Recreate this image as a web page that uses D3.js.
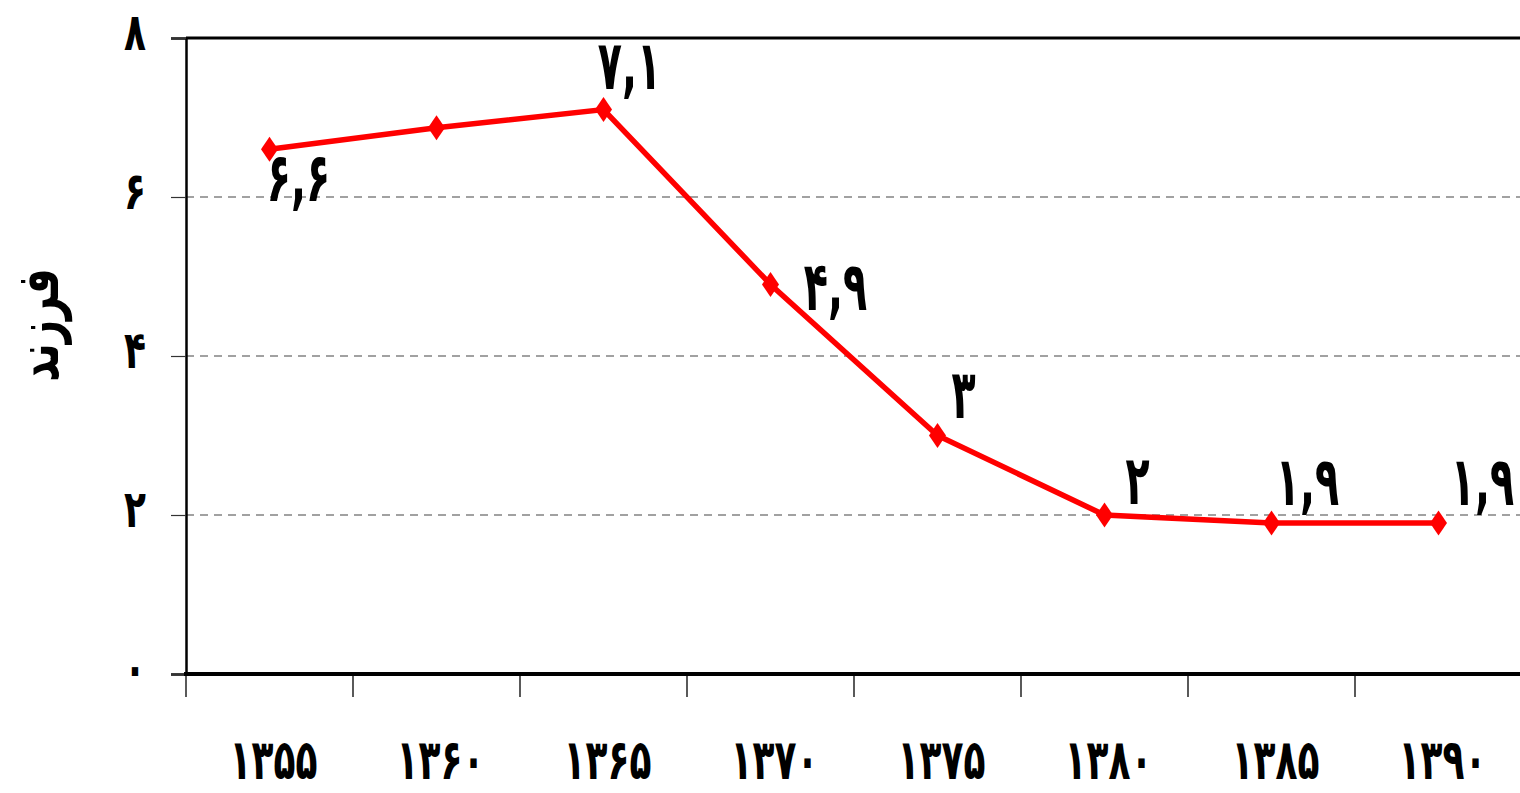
<!DOCTYPE html>
<html><head><meta charset="utf-8">
<script src="https://cdn.jsdelivr.net/npm/d3@7"></script>
<style>
html,body{margin:0;padding:0;background:#fff;overflow:hidden}
text{font-family:"DejaVu Sans Condensed","DejaVu Sans",sans-serif;font-weight:bold;fill:#000}
</style></head>
<body>
<svg id="c" width="1520" height="793"></svg>
<script>
const years = ["۱۳۵۵","۱۳۶۰","۱۳۶۵","۱۳۷۰","۱۳۷۵","۱۳۸۰","۱۳۸۵","۱۳۹۰"];
const values = [6.6, 6.87, 7.1, 4.9, 3.0, 2.0, 1.9, 1.9];
const valueLabels = ["۶,۶", "", "۷,۱", "۴,۹", "۳", "۲", "۱,۹", "۱,۹"];
const yTicks = [0, 2, 4, 6, 8];
const yTickLabels = ["۰","۲","۴","۶","۸"];
const yTitle = "فرزند";
// manual label nudges (dx, dy) like in the original
const labelNudges = [[29,31],[0,0],[26,-41],[65,5],[26,-38],[33,-31],[36,-38],[44,-38]];

const svg = d3.select("#c");
const L = 186, R = 1522, T = 38, B = 674;
const x = d3.scaleBand().domain(years).range([L, R]).paddingInner(0).paddingOuter(0);
const y = d3.scaleLinear().domain([0, 8]).range([B, T]);
const cx = (i) => x(years[i]) + x.bandwidth() / 2;

// gridlines
svg.append("g").selectAll("line").data(yTicks.filter(t => t > 0 && t < 8)).join("line")
  .attr("x1", L).attr("x2", 1520).attr("y1", d => y(d)).attr("y2", d => y(d))
  .attr("stroke", "#444").attr("stroke-width", 1.1).attr("stroke-dasharray", "8,6");

// top border
svg.append("line").attr("x1", L).attr("x2", 1520).attr("y1", y(8)).attr("y2", y(8))
  .attr("stroke", "#000").attr("stroke-width", 3);

// y axis
const yAxis = d3.axisLeft(y).tickValues(yTicks).tickSize(15).tickFormat((d, i) => yTickLabels[i]).tickPadding(25);
const gy = svg.append("g").attr("transform", `translate(${L},0)`).call(yAxis);
gy.select(".domain").attr("stroke", "#000").attr("stroke-width", 2.5);
gy.selectAll(".tick line").attr("stroke", "#333").attr("stroke-width", 1.2);
gy.selectAll(".tick text").attr("font-size", 40).attr("dy", "0.22em").attr("transform", "scale(1,1.3)")
  .style("font-family", '"DejaVu Sans Condensed","DejaVu Sans",sans-serif').style("font-weight", "bold");

// x axis
const gx = svg.append("g");
gx.selectAll("line.t").data(years.concat(["end"])).join("line").attr("class", "t")
  .attr("x1", (d, i) => i < years.length ? x(d) : R).attr("x2", (d, i) => i < years.length ? x(d) : R)
  .attr("y1", B).attr("y2", B + 23).attr("stroke", "#000").attr("stroke-width", 1.3);
gx.append("line").attr("x1", L - 2).attr("x2", 1520).attr("y1", B).attr("y2", B)
  .attr("stroke", "#000").attr("stroke-width", 4);
gx.selectAll("text").data(years).join("text")
  .attr("transform", d => `translate(${x(d) + x.bandwidth() / 2 + 4},779) scale(1,1.4)`)
  .attr("text-anchor", "middle").attr("font-size", 40).attr("letter-spacing", 8)
  .text(d => d);

// y title
svg.append("text").attr("transform", "translate(58,325) rotate(-90) scale(1,1.3)")
  .attr("text-anchor", "middle").attr("font-size", 45).attr("direction", "rtl")
  .text(yTitle);

// line
const line = d3.line().x((d, i) => cx(i)).y(d => y(d));
svg.append("path").datum(values).attr("d", line).attr("fill", "none")
  .attr("stroke", "#ff0000").attr("stroke-width", 5.5).attr("stroke-linejoin", "miter");

// diamond markers
svg.append("g").selectAll("path").data(values).join("path")
  .attr("transform", (d, i) => `translate(${cx(i)},${y(d)})`)
  .attr("d", "M0,-12.5L8.5,0L0,12.5L-8.5,0Z").attr("fill", "#ff0000");

// value labels
svg.append("g").selectAll("text").data(values).join("text")
  .attr("transform", (d, i) => `translate(${cx(i) + labelNudges[i][0]},${y(d) + labelNudges[i][1]}) scale(1,1.55)`)
  .attr("dy", "0.3em").attr("text-anchor", "middle").attr("font-size", 44)
  .attr("letter-spacing", 5)
  .text((d, i) => valueLabels[i]);
</script>
</body></html>
